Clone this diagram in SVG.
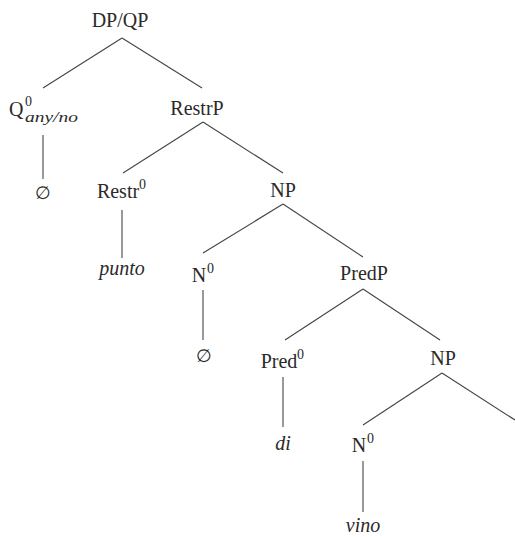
<svg xmlns="http://www.w3.org/2000/svg" width="515" height="537" viewBox="0 0 515 537">
  <style>
    text { font-family: "Liberation Serif", "DejaVu Serif", serif; fill: #2a2a2a; }
    .lab { font-size: 20px; text-anchor: middle; }
    .sup { font-size: 14px; }
    .sub { font-size: 15px; font-style: italic; }
    .leaf { font-size: 20px; font-style: italic; text-anchor: middle; }
    .null { font-size: 18px; text-anchor: middle; }
    .edges line { stroke: #444; stroke-width: 1.1; }
  </style>
  <rect width="515" height="537" fill="#fff"/>

  <g class="edges" id="connectors">
    <line x1="122" y1="38" x2="43" y2="88"/>
    <line x1="122" y1="38" x2="202" y2="88"/>
    <line x1="43" y1="135" x2="43" y2="179"/>
    <line x1="203" y1="122" x2="123" y2="173"/>
    <line x1="203" y1="122" x2="283" y2="173"/>
    <line x1="122" y1="210" x2="122" y2="258"/>
    <line x1="283" y1="204" x2="203" y2="253"/>
    <line x1="283" y1="204" x2="363" y2="257"/>
    <line x1="203" y1="290" x2="203" y2="340"/>
    <line x1="363" y1="289" x2="285" y2="340"/>
    <line x1="363" y1="289" x2="440" y2="340"/>
    <line x1="283" y1="377" x2="283" y2="427"/>
    <line x1="442" y1="373" x2="363" y2="425"/>
    <line x1="442" y1="373" x2="515" y2="420"/>
    <line x1="363" y1="461" x2="363" y2="512"/>
  </g>

  <g id="dpqp"><text class="lab" x="120" y="27">DP/QP</text></g>

  <g id="q0">
    <text x="9" y="116" font-size="20">Q</text>
    <text class="sup" x="25" y="106">0</text>
    <text class="sub" x="25" y="122" textLength="53" lengthAdjust="spacingAndGlyphs">any/no</text>
  </g>
  <g id="q0-null"><text class="null" x="43" y="199">∅</text></g>

  <g id="restrp"><text class="lab" x="197" y="115">RestrP</text></g>

  <g id="restr0">
    <text class="lab" x="118" y="198">Restr</text>
    <text class="sup" x="139" y="189">0</text>
  </g>
  <g id="punto"><text class="leaf" x="122" y="275">punto</text></g>

  <g id="np1"><text class="lab" x="283" y="197">NP</text></g>

  <g id="n0-1">
    <text class="lab" x="199" y="282">N</text>
    <text class="sup" x="207" y="273">0</text>
  </g>
  <g id="n0-1-null"><text class="null" x="204" y="362">∅</text></g>

  <g id="predp"><text class="lab" x="364" y="280">PredP</text></g>

  <g id="pred0">
    <text class="lab" x="279" y="368">Pred</text>
    <text class="sup" x="297" y="359">0</text>
  </g>
  <g id="di"><text class="leaf" x="283" y="450">di</text></g>

  <g id="np2"><text class="lab" x="443" y="365">NP</text></g>

  <g id="n0-2">
    <text class="lab" x="359" y="452">N</text>
    <text class="sup" x="367" y="443">0</text>
  </g>
  <g id="vino"><text class="leaf" x="363" y="532">vino</text></g>
</svg>
